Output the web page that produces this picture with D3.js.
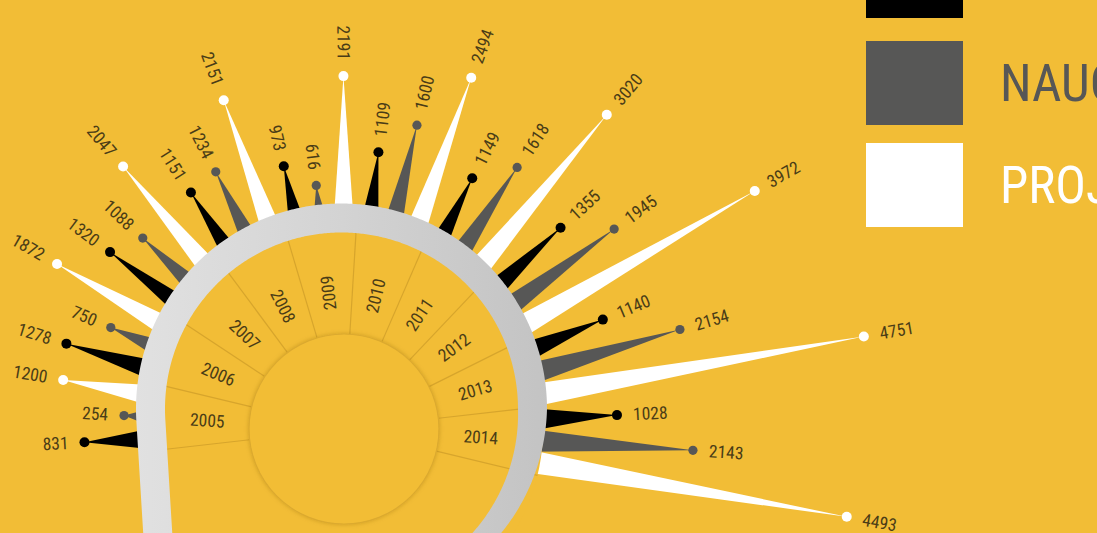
<!DOCTYPE html>
<html><head><meta charset="utf-8">
<script src="https://cdn.jsdelivr.net/npm/d3@7"></script>
<style>
html,body{margin:0;padding:0;background:#f2bd36;overflow:hidden}
svg{display:block}
text{font-family:"Liberation Sans Narrow","Roboto Condensed","DejaVu Sans Condensed","Arial Narrow",sans-serif;font-stretch:condensed}
</style></head><body>
<svg id="chart" width="1097" height="533"></svg>
<script>
// ---- data ----
const years = ["2005","2006","2007","2008","2009","2010","2011","2012","2013","2014"];
const seriesNames = ["STRUČNI RADOVI","NAUČNI RADOVI","PROJEKTI"];
const seriesColors = ["#000000","#575756","#ffffff"];
const strucni  = [831,1278,1320,1151,973,1109,1149,1355,1140,1028];
const naucni   = [254,750,1088,1234,616,1600,1618,1945,2154,2143];
const projekti = [1200,1872,2047,2151,2191,2494,3020,3972,4751,4493];
const seriesValues = [strucni, naucni, projekti];

// ---- layout ----
const W = 1097, H = 533, BG = "#f2bd36";
const cx = 344, cy = 429;           // year-wheel centre
const rInner = 95, rYear = 199, rLabelYear = 137;
const deg = Math.PI/180;

const svg = d3.select("#chart");
svg.append("rect").attr("width",W).attr("height",H).attr("fill",BG);

const defs = svg.append("defs");
const grad = defs.append("linearGradient").attr("id","ringGrad")
  .attr("gradientUnits","userSpaceOnUse").attr("x1",135).attr("y1",0).attr("x2",550).attr("y2",0);
grad.append("stop").attr("offset",0).attr("stop-color","#e1e1e1");
grad.append("stop").attr("offset",0.5).attr("stop-color","#d3d3d3");
grad.append("stop").attr("offset",1).attr("stop-color","#c3c3c3");
const f = defs.append("filter").attr("id","shadow").attr("x","-20%").attr("y","-20%").attr("width","140%").attr("height","140%");
f.append("feDropShadow").attr("dx",0).attr("dy",0).attr("stdDeviation",2.2)
  .attr("flood-color","#8a6400").attr("flood-opacity",0.35);

// scales
const yearAngle = d3.scaleBand().domain(years).range([-96.5, 103.5]).paddingInner(0).paddingOuter(0);
const seriesAngle = d3.scalePoint().domain(d3.range(seriesNames.length))
  .range([0, yearAngle.bandwidth()]).padding(0.56);
const rScale = d3.scaleLinear().domain([0, d3.max(projekti)]).range([203, 528]);

const polar = (a, r) => [cx + r*Math.sin(a*deg), cy - r*Math.cos(a*deg)];

// flatten data
const spikes = [];
years.forEach((y, i) => {
  seriesValues.forEach((vals, s) => {
    spikes.push({year:y, s, v: vals[i], a: yearAngle(y) + seriesAngle(s)});
  });
});

const g = svg.append("g");

// spikes
const r0 = 186, hw = 11.5;
g.append("g").selectAll("path").data(spikes).join("path")
  .attr("fill", d => seriesColors[d.s])
  .attr("d", d => {
    const a = d.a*deg, ux = Math.sin(a), uy = -Math.cos(a), nx = Math.cos(a), ny = Math.sin(a);
    const rt = rScale(d.v);
    const b1 = [cx + r0*ux + hw*nx, cy + r0*uy + hw*ny];
    const b2 = [cx + r0*ux - hw*nx, cy + r0*uy - hw*ny];
    const t = [cx + rt*ux, cy + rt*uy];
    return d3.line()([b1, t, b2]) + "Z";
  });

// dots
g.append("g").selectAll("circle").data(spikes).join("circle")
  .attr("cx", d => polar(d.a, rScale(d.v))[0])
  .attr("cy", d => polar(d.a, rScale(d.v))[1])
  .attr("r", d => d.s === 1 ? 4.6 : 5)
  .attr("fill", d => seriesColors[d.s]);

// value labels
g.append("g").selectAll("text").data(spikes).join("text")
  .attr("transform", d => {
    const p = polar(d.a, rScale(d.v) + 16);
    const rot = d.a < 0 ? d.a + 90 : d.a - 90;
    return `translate(${p[0]},${p[1]}) rotate(${rot})`;
  })
  .attr("text-anchor", d => d.a < 0 ? "end" : "start")
  .attr("dominant-baseline","central")
  .attr("font-size", 17.5)
  .attr("fill", "#4a3c16")
  .text(d => d.v);

// year disc (covers spike bases)
g.append("circle").attr("cx",cx).attr("cy",cy).attr("r",rYear).attr("fill",BG);

// separators
const bounds = years.map(y => yearAngle(y)).concat([yearAngle(years[years.length-1]) + yearAngle.bandwidth()]);
g.append("g").selectAll("line").data(bounds).join("line")
  .attr("x1", a => polar(a, rInner)[0]).attr("y1", a => polar(a, rInner)[1])
  .attr("x2", a => polar(a, rYear)[0]).attr("y2", a => polar(a, rYear)[1])
  .attr("stroke","#d7a52c").attr("stroke-width",1.2);

// grey ring (with tail on the left)
const ringC = [341.5, 409], ringMid = 191;
const ringW = a => a <= 90 ? 29 : Math.max(19, 29 - (a-90)*0.175);
const rp = (a, r) => [ringC[0] + r*Math.sin(a*deg), ringC[1] - r*Math.cos(a*deg)];
const aStart = -93.5, aEnd = 160;
const ringAngles = d3.range(aStart, aEnd + 0.01, 0.5);
const outer = ringAngles.map(a => rp(a, ringMid + ringW(a)/2));
const inner = ringAngles.map(a => rp(a, ringMid - ringW(a)/2)).reverse();
const dir = [Math.cos(aStart*deg)*-1, Math.sin(aStart*deg)*-1]; // downward tangent
const L = 220;
const tailOuter = [outer[0][0] + L*dir[0], outer[0][1] + L*dir[1]];
const tailInner = [inner[inner.length-1][0] + L*dir[0], inner[inner.length-1][1] + L*dir[1]];
const ringPts = [tailOuter].concat(outer, inner, [tailInner]);
g.append("path").attr("d", d3.line()(ringPts) + "Z").attr("fill","url(#ringGrad)");

// inner circle
g.append("circle").attr("cx",cx).attr("cy",cy).attr("r",rInner)
  .attr("fill",BG).attr("stroke","#dcaa2e").attr("stroke-width",1.2)
  .attr("filter","url(#shadow)");

// year labels
g.append("g").selectAll("text").data(years).join("text")
  .attr("transform", y => {
    const a = yearAngle(y) + yearAngle.bandwidth()/2;
    const p = polar(a, rLabelYear);
    const rot = a < -10 ? a + 90 : a - 90;
    return `translate(${p[0]},${p[1]}) rotate(${rot})`;
  })
  .attr("text-anchor","middle").attr("dominant-baseline","central")
  .attr("font-size",17.5).attr("fill","#4a3c16")
  .text(y => y);

// legend
const legendTop = [-66, 41, 143];
const lg = svg.append("g");
seriesNames.forEach((n, i) => {
  lg.append("rect").attr("x",866).attr("y",legendTop[i]).attr("width",97).attr("height",84)
    .attr("fill",seriesColors[i]);
  lg.append("text").attr("x",1000).attr("y",legendTop[i] + 42)
    .attr("dominant-baseline","central").attr("font-size",51)
    .attr("fill", i === 1 ? "#575756" : seriesColors[i]).text(n);
});
</script>
</body></html>
